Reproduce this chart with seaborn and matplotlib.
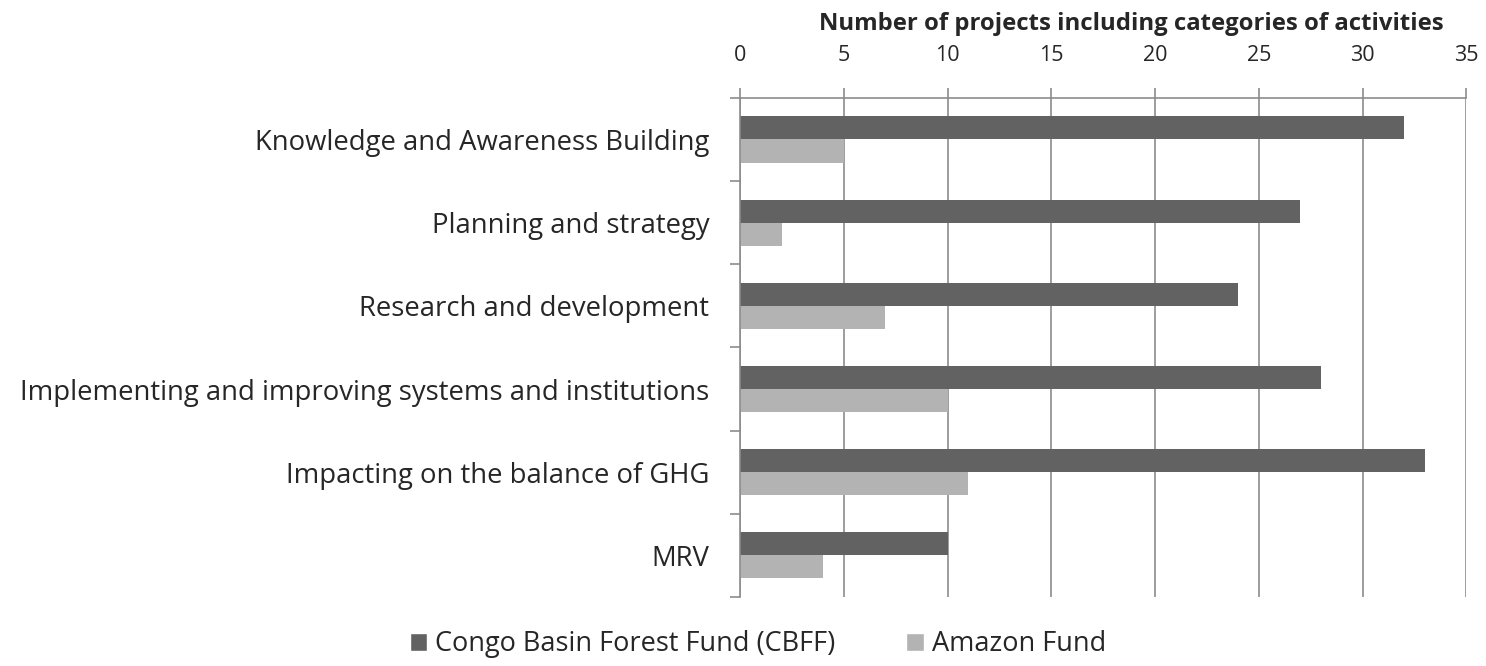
import numpy as np
import pandas as pd
import matplotlib.pyplot as plt
import seaborn as sns
from matplotlib.patches import Patch

# ── Data ──────────────────────────────────────────────────────────────────────

CATEGORIES = [
    "Knowledge and Awareness Building",
    "Planning and strategy",
    "Research and development",
    "Implementing and improving systems and institutions",
    "Impacting on the balance of GHG",
    "MRV",
]
CBFF_VALUES = [32, 27, 24, 28, 33, 10]
AMAZON_VALUES = [5, 2, 7, 10, 11, 4]
SERIES = ["Congo Basin Forest Fund (CBFF)", "Amazon Fund"]
COLORS = ["#626262", "#b3b3b3"]
X_TICKS = [0, 5, 10, 15, 20, 25, 30, 35]

GRID = "#8c8c8c"
FONT = ["Open Sans", "DejaVu Sans"]

# ── Build frame ───────────────────────────────────────────────────────────────

rows = []
for cat, a, b in zip(CATEGORIES, CBFF_VALUES, AMAZON_VALUES):
    rows.append({"Category": cat, "Fund": SERIES[0], "Projects": a})
    rows.append({"Category": cat, "Fund": SERIES[1], "Projects": b})
df = pd.DataFrame(rows)

sns.set_theme(style="white")
plt.rcParams["font.family"] = FONT

fig = plt.figure(figsize=(14.86, 6.66), dpi=100)
ax = fig.add_axes([0.498, 0.1036, 0.4888, 0.7494])

sns.barplot(
    data=df, y="Category", x="Projects", hue="Fund",
    order=CATEGORIES, hue_order=SERIES, palette=COLORS,
    orient="h", width=0.555, saturation=1, linewidth=0, ax=ax,
)

ax.set_xlim(0, 35)
ax.set_ylim(5.5, -0.5)
ax.set_xticks(X_TICKS)
ax.xaxis.tick_top()
ax.xaxis.set_label_position("top")
ax.set_xlabel("Number of projects including categories of activities",
              fontsize=17.2, fontweight="bold")
ax.xaxis.set_label_coords(0.539, 1.136)
ax.set_ylabel("")
ax.tick_params(axis="x", top=True, bottom=False, length=7, width=1.2,
               color=GRID, labelsize=15.5, pad=16)
ax.tick_params(axis="y", left=False, labelsize=19.8, pad=16)
ax.set_yticks(np.arange(-0.5, 6, 1), minor=True)
ax.tick_params(axis="y", which="minor", left=True, length=7, width=1.2, color=GRID)

ax.grid(axis="x", color=GRID, linewidth=1.2)
ax.set_axisbelow(True)
for side in ["right", "bottom"]:
    ax.spines[side].set_visible(False)
for side in ["left", "top"]:
    ax.spines[side].set_color(GRID)
    ax.spines[side].set_linewidth(1.2)

ax.legend_.remove()
handles = [Patch(facecolor=c, label=s) for s, c in zip(SERIES, COLORS)]
fig.legend(handles=handles, loc="lower center", bbox_to_anchor=(0.51, -0.025),
           ncol=2, frameon=False, fontsize=19.5, handlelength=0.65,
           handleheight=0.65, handletextpad=0.3, columnspacing=2.6)

fig.savefig("out.png", dpi=100)
